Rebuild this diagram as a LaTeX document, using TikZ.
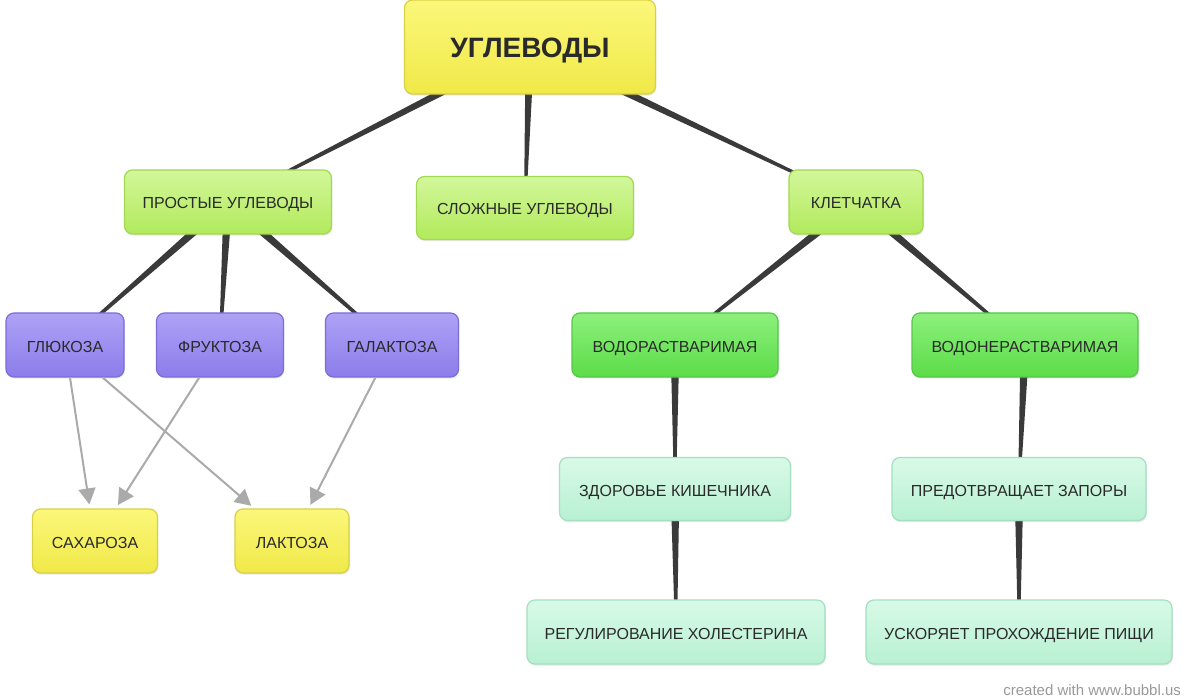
\documentclass[tikz,border=0pt]{standalone}
\usepackage{fontspec}
\setmainfont{Liberation Sans}
\usetikzlibrary{calc,arrows.meta,backgrounds,shadows}
\definecolor{txt}{HTML}{2A2A2A}
\definecolor{yelT}{HTML}{FBF77A}
\definecolor{yelB}{HTML}{F0E948}
\definecolor{yelD}{HTML}{D9D045}
\definecolor{limT}{HTML}{D2F79A}
\definecolor{limB}{HTML}{B2EA5C}
\definecolor{limD}{HTML}{A2D852}
\definecolor{purT}{HTML}{AEA2F6}
\definecolor{purB}{HTML}{8C7CEA}
\definecolor{purD}{HTML}{7C6CDA}
\definecolor{grnT}{HTML}{8CF07C}
\definecolor{grnB}{HTML}{5CDC48}
\definecolor{grnD}{HTML}{55C848}
\definecolor{mntT}{HTML}{D8FAE8}
\definecolor{mntB}{HTML}{B8F0D2}
\definecolor{mntD}{HTML}{A2E0C0}
\definecolor{conncol}{HTML}{3A3A3A}
\definecolor{arrgray}{HTML}{AAAAAA}
\newcommand\taperlink[2]{%
  \fill[conncol] ($(#1.center)!2.2pt!90:(#2.center)$) -- ($(#2.center)!0.5pt!-90:(#1.center)$)
    -- ($(#2.center)!0.5pt!90:(#1.center)$) -- ($(#1.center)!2.2pt!-90:(#2.center)$) -- cycle;}
\begin{document}
\begin{tikzpicture}[x=0.5pt,y=-0.5pt,
  box/.style={draw, rounded corners=4pt, line width=0.6pt, inner sep=0pt,
    minimum height=32pt, font=\fontsize{8}{9}\selectfont, text=txt,
    text height=7pt, text depth=0pt,
    drop shadow={opacity=0.18, shadow xshift=0.4pt, shadow yshift=-0.8pt}},
  yel/.style={box, draw=yelD, top color=yelT, bottom color=yelB},
  lim/.style={box, draw=limD, top color=limT, bottom color=limB},
  pur/.style={box, draw=purD, top color=purT, bottom color=purB},
  grn/.style={box, draw=grnD, top color=grnT, bottom color=grnB},
  mnt/.style={box, draw=mntD, top color=mntT, bottom color=mntB},
  garrow/.style={draw=arrgray, line width=1pt, -{Triangle[length=8pt,width=8.5pt]}, shorten >=2pt}
]
\useasboundingbox (0,0) rectangle (1200,700);
% nodes
\node[yel, minimum width=125.5pt, minimum height=47pt, font=\fontsize{14}{16}\bfseries\selectfont, text height=10.5pt] (root) at (530,47) {УГЛЕВОДЫ};
\node[lim, minimum width=103.5pt] (pro) at (228,202) {ПРОСТЫЕ УГЛЕВОДЫ};
\node[lim, minimum width=108.5pt, minimum height=31.5pt] (slo) at (525,208) {СЛОЖНЫЕ УГЛЕВОДЫ};
\node[lim, minimum width=67pt] (kle) at (856,202) {КЛЕТЧАТКА};
\node[pur, minimum width=59pt] (glu) at (65,345) {ГЛЮКОЗА};
\node[pur, minimum width=63.5pt] (fru) at (220,345) {ФРУКТОЗА};
\node[pur, minimum width=66.5pt] (gal) at (392,345) {ГАЛАКТОЗА};
\node[yel, minimum width=62.5pt] (sah) at (95,541) {САХАРОЗА};
\node[yel, minimum width=57pt] (lak) at (292,541) {ЛАКТОЗА};
\node[grn, minimum width=103pt] (vod) at (675,345) {ВОДОРАСТВАРИМАЯ};
\node[grn, minimum width=113pt] (von) at (1025,345) {ВОДОНЕРАСТВАРИМАЯ};
\node[mnt, minimum width=115.5pt, minimum height=31.5pt] (zdo) at (675,489) {ЗДОРОВЬЕ КИШЕЧНИКА};
\node[mnt, minimum width=127pt, minimum height=31.5pt] (pre) at (1019,489) {ПРЕДОТВРАЩАЕТ ЗАПОРЫ};
\node[mnt, minimum width=149pt] (reg) at (676,632) {РЕГУЛИРОВАНИЕ ХОЛЕСТЕРИНА};
\node[mnt, minimum width=153pt] (usk) at (1019,632) {УСКОРЯЕТ ПРОХОЖДЕНИЕ ПИЩИ};
\node[text=arrgray!90!black, font=\fontsize{7.5}{9}\selectfont, anchor=east] (credit) at (1188,690) {created with www.bubbl.us};
% tapered connectors
\begin{pgfonlayer}{background}
\fill[white] (0,0) rectangle (1200,700);
\taperlink{root}{pro}
\taperlink{root}{slo}
\taperlink{root}{kle}
\taperlink{pro}{glu}
\taperlink{pro}{fru}
\taperlink{pro}{gal}
\taperlink{kle}{vod}
\taperlink{kle}{von}
\taperlink{vod}{zdo}
\taperlink{von}{pre}
\taperlink{zdo}{reg}
\taperlink{pre}{usk}
\end{pgfonlayer}
% arrows
\draw[garrow] (glu) -- (sah);
\draw[garrow] (glu) -- (lak);
\draw[garrow] (fru) -- (sah);
\draw[garrow] (gal) -- (lak);
\end{tikzpicture}
\end{document}
